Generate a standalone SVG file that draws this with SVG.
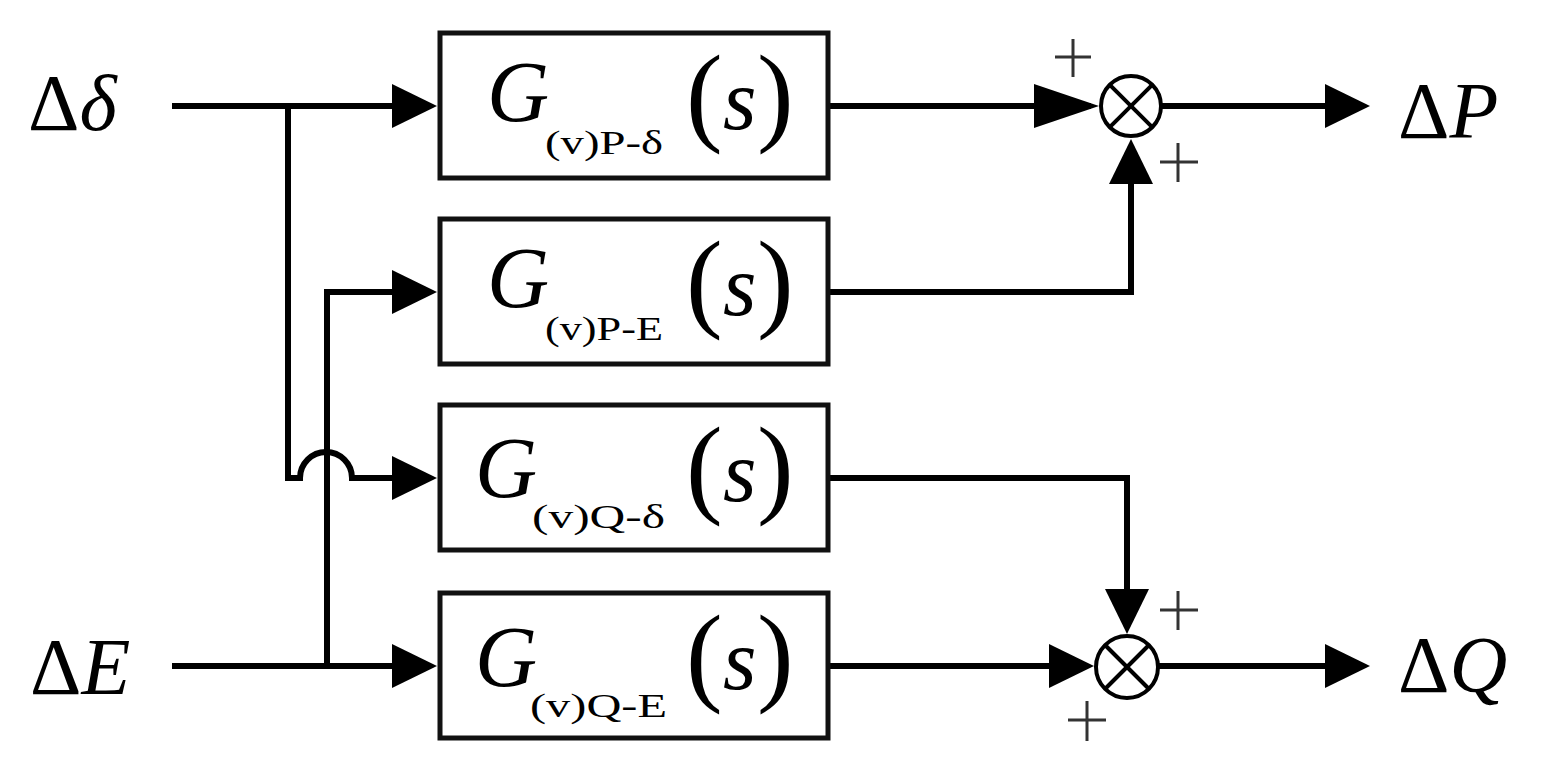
<svg xmlns="http://www.w3.org/2000/svg" width="1546" height="772" viewBox="0 0 1546 772">
<style>
.box{fill:#fff;stroke:#111;stroke-width:5}
.ln{fill:none;stroke:#000;stroke-width:6}
.sj{fill:#fff;stroke:#000;stroke-width:4}
.x{stroke:#000;stroke-width:4}
.pl{stroke:#333;stroke-width:3}
.t{font-family:"Liberation Serif","Times New Roman",serif;fill:#000}
.G{font-size:86px;font-style:italic}
.sub{font-size:34px}
.par{font-size:110px;font-style:normal}
.s{font-size:86px;font-style:italic}
.lab{font-size:80px}
.it{font-style:italic}
</style>
<defs>
<marker id="arr" markerUnits="userSpaceOnUse" viewBox="0 0 45 44" markerWidth="45" markerHeight="44" refX="37" refY="22" orient="auto"><path d="M0,0 L45,22 L0,44 Z" fill="#000"/></marker>
<marker id="arrL" markerUnits="userSpaceOnUse" viewBox="0 0 65 44" markerWidth="65" markerHeight="44" refX="57" refY="22" orient="auto"><path d="M0,0 L65,22 L0,44 Z" fill="#000"/></marker>
</defs>
<rect width="1546" height="772" fill="#fff"/>

<g id="connectors">
<path class="ln" d="M172,106 H429" marker-end="url(#arr)"/>
<path class="ln" d="M288,106 V478 H300 A26,26 0 0 1 352,478 H429" marker-end="url(#arr)"/>
<path class="ln" d="M172,666 H429" marker-end="url(#arr)"/>
<path class="ln" d="M327,666 V292 H429" marker-end="url(#arr)"/>
<path class="ln" d="M828,106 H1091" marker-end="url(#arrL)"/>
<path class="ln" d="M828,292 H1131 V147" marker-end="url(#arr)"/>
<path class="ln" d="M828,478 H1127 V626" marker-end="url(#arr)"/>
<path class="ln" d="M828,666 H1086" marker-end="url(#arr)"/>
<path class="ln" d="M1161,106 H1362" marker-end="url(#arr)"/>
<path class="ln" d="M1158,666 H1362" marker-end="url(#arr)"/>
</g>

<g id="in-delta">
<text class="t lab" x="28" y="130">Δ<tspan class="it">δ</tspan></text>
</g>
<g id="in-E">
<text class="t lab" x="30" y="694">Δ<tspan class="it">E</tspan></text>
</g>
<g id="out-P">
<text class="t lab" x="1398" y="138">Δ<tspan class="it">P</tspan></text>
</g>
<g id="out-Q">
<text class="t lab" x="1398" y="692">Δ<tspan class="it">Q</tspan></text>
</g>

<g id="box-P-delta">
<rect class="box" x="440" y="33" width="388" height="145"/>
<text class="t G" x="487" y="121">G</text>
<text class="t sub" x="545" y="154" textLength="118" lengthAdjust="spacingAndGlyphs">(v)P-δ</text>
<text class="t"><tspan class="par" x="686" y="131">(</tspan><tspan class="s" x="723" y="129">s</tspan><tspan class="par" x="757" y="131">)</tspan></text>
</g>
<g id="box-P-E">
<rect class="box" x="440" y="219" width="388" height="145"/>
<text class="t G" x="487" y="307">G</text>
<text class="t sub" x="545" y="340" textLength="118" lengthAdjust="spacingAndGlyphs">(v)P-E</text>
<text class="t"><tspan class="par" x="686" y="317">(</tspan><tspan class="s" x="723" y="315">s</tspan><tspan class="par" x="757" y="317">)</tspan></text>
</g>
<g id="box-Q-delta">
<rect class="box" x="440" y="405" width="388" height="145"/>
<text class="t G" x="475" y="497">G</text>
<text class="t sub" x="532" y="528" textLength="133" lengthAdjust="spacingAndGlyphs">(v)Q-δ</text>
<text class="t"><tspan class="par" x="686" y="503">(</tspan><tspan class="s" x="723" y="501">s</tspan><tspan class="par" x="757" y="503">)</tspan></text>
</g>
<g id="box-Q-E">
<rect class="box" x="440" y="593" width="388" height="145"/>
<text class="t G" x="475" y="686">G</text>
<text class="t sub" x="530" y="717" textLength="137" lengthAdjust="spacingAndGlyphs">(v)Q-E</text>
<text class="t"><tspan class="par" x="686" y="691">(</tspan><tspan class="s" x="723" y="689">s</tspan><tspan class="par" x="757" y="691">)</tspan></text>
</g>

<g id="sum-P">
<circle class="sj" cx="1131" cy="106" r="30"/>
<line class="x" x1="1109.8" y1="84.8" x2="1152.2" y2="127.2"/>
<line class="x" x1="1152.2" y1="84.8" x2="1109.8" y2="127.2"/>
<line class="pl" x1="1055" y1="57" x2="1091" y2="57"/>
<line class="pl" x1="1073" y1="39" x2="1073" y2="77"/>
<line class="pl" x1="1160" y1="162" x2="1198" y2="162"/>
<line class="pl" x1="1178" y1="143" x2="1178" y2="182"/>
</g>
<g id="sum-Q">
<circle class="sj" cx="1127" cy="667" r="31"/>
<line class="x" x1="1105" y1="645" x2="1149" y2="689"/>
<line class="x" x1="1149" y1="645" x2="1105" y2="689"/>
<line class="pl" x1="1160" y1="610" x2="1198" y2="610"/>
<line class="pl" x1="1178" y1="591" x2="1178" y2="630"/>
<line class="pl" x1="1068" y1="720" x2="1106" y2="720"/>
<line class="pl" x1="1087" y1="701" x2="1087" y2="741"/>
</g>
</svg>
